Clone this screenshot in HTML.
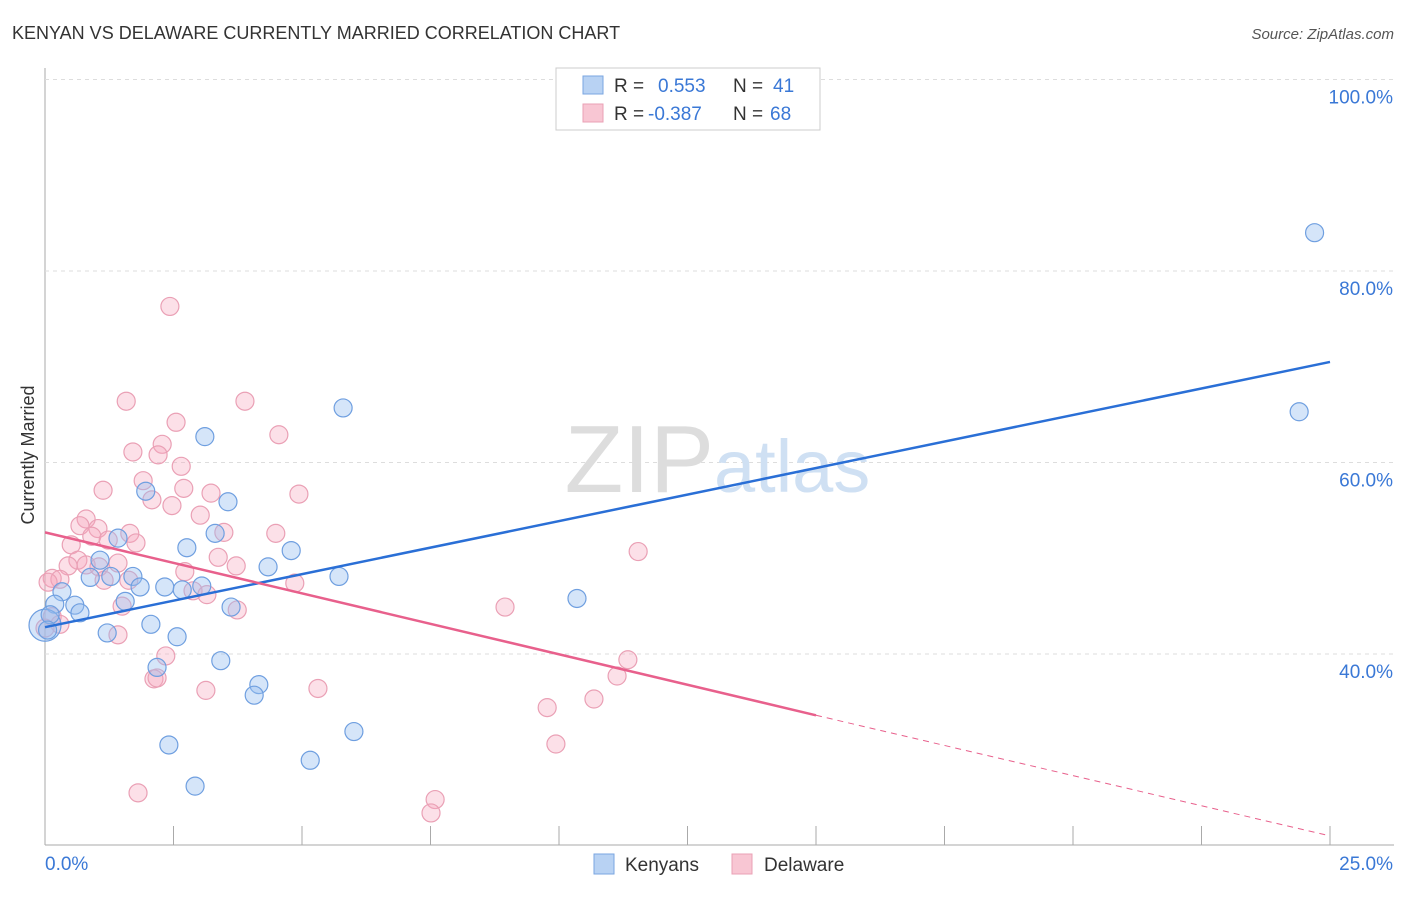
<!DOCTYPE html>
<html><head><meta charset="utf-8"><style>
body{margin:0;background:#fff;font-family:"Liberation Sans",sans-serif}
svg text{font-family:"Liberation Sans",sans-serif}
</style></head><body>
<svg id="chart" width="1406" height="892">
<text x="12" y="39" font-size="18" fill="#333">KENYAN VS DELAWARE CURRENTLY MARRIED CORRELATION CHART</text>
<text x="1394" y="39" font-size="15" fill="#555" font-style="italic" text-anchor="end">Source: ZipAtlas.com</text>
<text x="34" y="455" font-size="18" fill="#333" transform="rotate(-90 34 455)" text-anchor="middle">Currently Married</text>
<g id="grid"></g>
<text x="714" y="492" font-size="96" fill="#ddd" text-anchor="end" font-family="Liberation Serif">ZIP</text>
<text x="714" y="492" font-size="74" fill="#cfe0f3">atlas</text>
<g id="pts"></g>
<g id="lines"></g>
<g>
<rect x="556" y="68" width="264" height="62" fill="#fff" stroke="#ccc"/>
<rect x="583" y="76" width="20" height="18" fill="#b8d2f3" stroke="#7aa6e0"/>
<text x="614" y="92" font-size="19" fill="#333">R = </text><text x="658" y="92" font-size="19" fill="#3a78d6">0.553</text>
<text x="733" y="92" font-size="19" fill="#333">N = </text><text x="773" y="92" font-size="19" fill="#3a78d6">41</text>
<rect x="583" y="104" width="20" height="18" fill="#f8c6d3" stroke="#eaa0b5"/>
<text x="614" y="120" font-size="19" fill="#333">R = </text><text x="648" y="120" font-size="19" fill="#3a78d6">-0.387</text>
<text x="733" y="120" font-size="19" fill="#333">N = </text><text x="770" y="120" font-size="19" fill="#3a78d6">68</text>
</g>
<g>
<rect x="594" y="854" width="20" height="20" fill="#b8d2f3" stroke="#7aa6e0"/>
<text x="625" y="871" font-size="19" fill="#333">Kenyans</text>
<rect x="732" y="854" width="20" height="20" fill="#f8c6d3" stroke="#eaa0b5"/>
<text x="764" y="871" font-size="19" fill="#333">Delaware</text>
</g>
</svg>
<script>
const xTicks=[0,2.5,5,7.5,10,12.5,15,17.5,20,22.5,25];
const yTicks=[40,60,80,100];
const yTickLabels=["40.0%","60.0%","80.0%","100.0%"];
const kenyanX=[24.7,24.4,5.8,3.11,3.56,1.96,1.42,2.76,3.31,4.79,4.34,1.07,0.88,1.71,1.28,1.85,2.33,2.67,3.05,5.72,10.35,0.33,0.19,0.58,0.68,1.56,2.06,2.57,1.21,3.62,0,2.18,3.42,4.16,4.07,6.01,2.41,5.16,2.92,0.1,0.05];
const kenyanY=[84.0,65.3,65.7,62.7,55.9,57.0,52.1,51.1,52.6,50.8,49.1,49.8,48.0,48.1,48.1,47.0,47.0,46.7,47.1,48.1,45.8,46.5,45.2,45.1,44.3,45.5,43.1,41.8,42.2,44.9,43.0,38.6,39.3,36.8,35.7,31.9,30.5,28.9,26.2,44.1,42.5];
const delawareX=[2.43,1.58,3.89,2.55,4.55,2.28,1.71,2.20,2.65,1.91,1.13,2.70,3.23,4.94,2.08,2.47,3.02,0.80,0.68,1.03,3.48,1.65,4.49,0.91,0.51,1.23,1.77,3.37,11.54,0.64,1.42,0.45,0.80,3.72,1.05,2.72,0.14,0.29,0.06,1.15,1.63,4.86,2.88,3.15,1.50,3.74,8.95,0.14,0.29,0,1.42,2.35,11.34,11.13,2.12,2.18,3.13,5.31,10.68,9.77,9.94,1.81,7.59,7.51];
const delawareY=[76.3,66.4,66.4,64.2,62.9,61.9,61.1,60.8,59.6,58.1,57.1,57.3,56.8,56.7,56.1,55.5,54.5,54.1,53.4,53.1,52.7,52.6,52.6,52.3,51.4,51.9,51.6,50.1,50.7,49.8,49.5,49.2,49.3,49.2,49.1,48.6,47.9,47.8,47.5,47.7,47.7,47.4,46.6,46.2,45.0,44.6,44.9,43.9,43.1,42.7,42.0,39.8,39.4,37.7,37.4,37.5,36.2,36.4,35.3,34.4,30.6,25.5,24.8,23.4];
const kenyanTrend=[[0,42.8],[25,70.5]];
const delawareTrend=[[0,52.7],[15,33.6],[25,21.0]];
const X=v=>45+v*51.4, Y=v=>1037-v*9.575;
const NS="http://www.w3.org/2000/svg";
function mk(tag,attrs,parent){const e=document.createElementNS(NS,tag);for(const k in attrs)e.setAttribute(k,attrs[k]);document.getElementById(parent).appendChild(e);return e;}
mk('line',{x1:45,y1:68,x2:45,y2:845,stroke:'#aaa'},'grid');
mk('line',{x1:45,y1:845,x2:1394,y2:845,stroke:'#aaa'},'grid');
yTicks.forEach((t,i)=>{
 const l=mk('line',{x1:45,y1:Y(t),x2:1394,y2:Y(t),stroke:'#ddd','stroke-dasharray':'4 4'},'grid');
 
 
 const tx=mk('text',{x:1393,y:Y(t)+24,'font-size':19,fill:'#3a78d6','text-anchor':'end'},'grid');tx.textContent=yTickLabels[i];
 
 
});
xTicks.forEach((t,i)=>{
 if(i===0)return;
 const l=mk('line',{x1:X(t),y1:826,x2:X(t),y2:845,stroke:'#aaa'},'grid');
 
 
});
[[0,"0.0%","start",45],[25,"25.0%","end",1393]].forEach(a=>{
 const tx=mk('text',{x:a[3],y:870,'font-size':19,fill:'#3a78d6','text-anchor':a[2]},'grid');tx.textContent=a[1];
 
 
});
delawareX.forEach((x,i)=>{
 const c=mk('circle',{cx:X(x),cy:Y(delawareY[i]),r:9,fill:'rgba(245,165,188,0.35)',stroke:'#eaa0b5','stroke-width':1.2},'pts');
 
 
});
kenyanX.forEach((x,i)=>{
 const c=mk('circle',{cx:X(x),cy:Y(kenyanY[i]),r:(i===30?16:9),fill:'rgba(150,190,240,0.4)',stroke:'#6f9fe0','stroke-width':1.2},'pts');
 
 
});
const kl=mk('line',{x1:X(kenyanTrend[0][0]),y1:Y(kenyanTrend[0][1]),x2:X(kenyanTrend[1][0]),y2:Y(kenyanTrend[1][1]),stroke:'#2a6fd6','stroke-width':2.5},'lines');


const dl=mk('line',{x1:X(delawareTrend[0][0]),y1:Y(delawareTrend[0][1]),x2:X(delawareTrend[1][0]),y2:Y(delawareTrend[1][1]),stroke:'#e8608c','stroke-width':2.5},'lines');


const dd=mk('line',{x1:X(delawareTrend[1][0]),y1:Y(delawareTrend[1][1]),x2:X(delawareTrend[2][0]),y2:Y(delawareTrend[2][1]),stroke:'#e8608c','stroke-width':1,'stroke-dasharray':'6 5'},'lines');


</script>
</body></html>
